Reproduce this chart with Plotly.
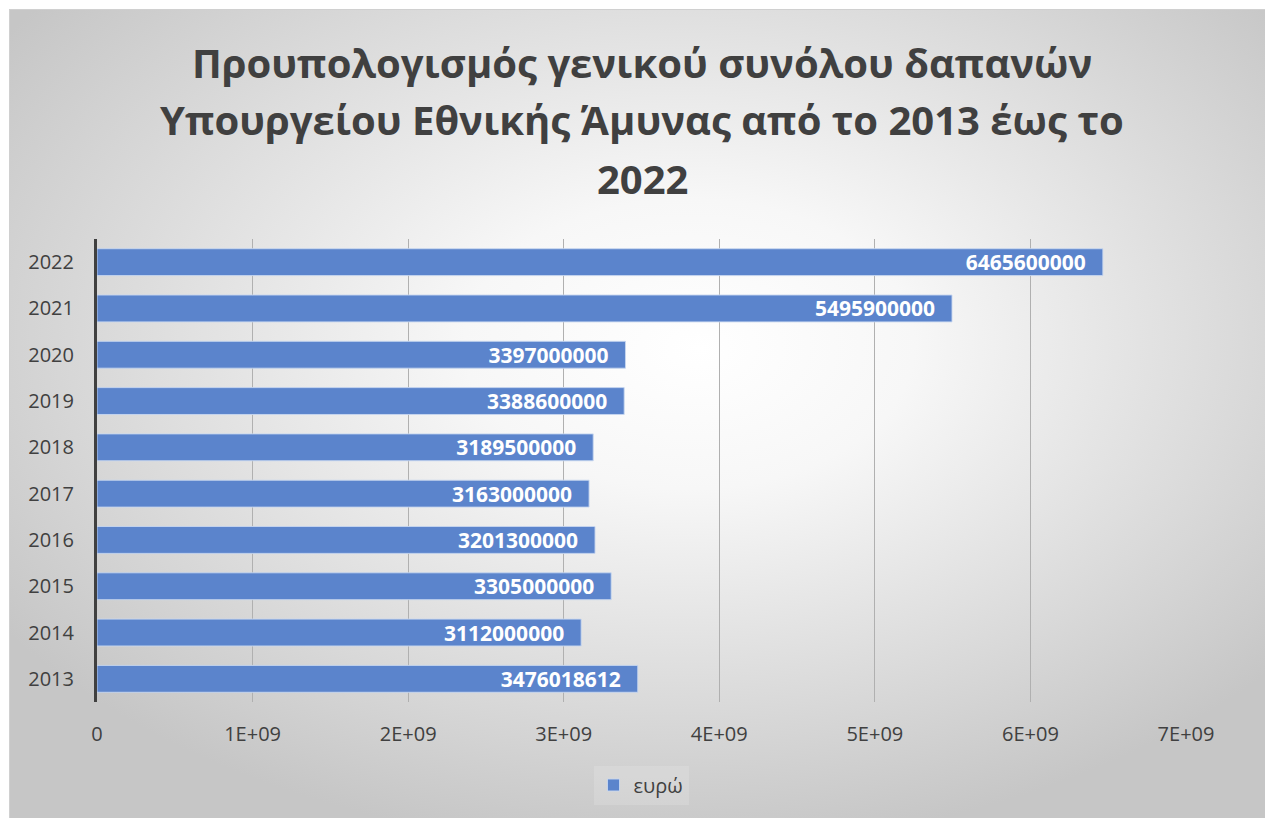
import plotly.graph_objects as go
import urllib.parse

years = ["2013", "2014", "2015", "2016", "2017", "2018", "2019", "2020", "2021", "2022"]
euros = [3476018612, 3112000000, 3305000000, 3201300000, 3163000000,
         3189500000, 3388600000, 3397000000, 5495900000, 6465600000]
x_tickvals = [0, 1e9, 2e9, 3e9, 4e9, 5e9, 6e9, 7e9]
x_ticktext = ["0", "1E+09", "2E+09", "3E+09", "4E+09", "5E+09", "6E+09", "7E+09"]
series_name = "ευρώ"
title_lines = ["Προυπολογισμός γενικού συνόλου δαπανών",
               "Υπουργείου Εθνικής Άμυνας από το 2013 έως το",
               "2022"]

W, H = 1265, 818
L, R, T, B = 97, 1186, 239, 702

svg = ('<svg xmlns="http://www.w3.org/2000/svg" width="1256" height="809" preserveAspectRatio="none">'
       '<defs><radialGradient id="g" cx="0.52" cy="0.40" r="0.64" fx="0.55" fy="0.42">'
       '<stop offset="0" stop-color="#ffffff"/><stop offset="0.28" stop-color="#f7f7f7"/>'
       '<stop offset="1" stop-color="#c6c6c6"/></radialGradient></defs>'
       '<rect x="0" y="0" width="1256" height="809" fill="url(#g)"/>'
       '<path d="M0.5 809 L0.5 0.5 L1256 0.5" fill="none" stroke="#d0d0d0" stroke-width="1"/></svg>')
src = "data:image/svg+xml;charset=utf-8," + urllib.parse.quote(svg)

pw, ph = R - L, B - T
def px2x(p):
    return (p - L) / pw
def py2y(p):
    return (B - p) / ph

fig = go.Figure()
fig.add_trace(go.Bar(
    y=years, x=euros, orientation="h", name=series_name,
    marker=dict(color="rgb(91,132,204)", line=dict(color="rgba(200,215,240,0.9)", width=1)),
    text=[str(v) for v in euros], texttemplate="%{text}\u2002\u2009",
    textposition="inside", insidetextanchor="end",
    textfont=dict(color="white", size=21, family="Open Sans", weight="bold"),
    constraintext="none", cliponaxis=False,
    width=0.58, showlegend=True, hoverinfo="skip",
))

annotations = []
for i, line in enumerate(title_lines):
    annotations.append(dict(
        text=line, xref="paper", yref="paper", x=px2x(642), y=py2y(62 + 58 * i),
        xanchor="center", yanchor="middle", showarrow=False,
        font=dict(size=40, family="Open Sans", color="#404040", weight="bold"),
    ))

fig.update_layout(
    width=W, height=H,
    margin=dict(l=L, r=W - R, t=T, b=H - B, pad=0),
    paper_bgcolor="white", plot_bgcolor="rgba(0,0,0,0)",
    font=dict(family="Open Sans", color="#404040"),
    annotations=annotations,
    xaxis=dict(range=[0, 7e9], tickvals=x_tickvals, ticktext=x_ticktext,
               showgrid=True, gridcolor="#b0b0b0", gridwidth=1, zeroline=False,
               showline=False, ticks="", ticklabelstandoff=18,
               tickfont=dict(size=20, color="#404040")),
    yaxis=dict(showgrid=False, showline=True, linecolor="#404040", linewidth=3,
               ticks="", ticklabelstandoff=16, tickfont=dict(size=20, color="#404040"),
               range=[-0.5, 9.5]),
    legend=dict(orientation="h", x=px2x(641), xanchor="center", y=py2y(785), yanchor="middle",
                font=dict(size=20, color="#404040"), bgcolor="rgba(255,255,255,0.15)",
                itemwidth=30),
    uniformtext=dict(mode="show", minsize=21),
    images=[dict(source=src, xref="paper", yref="paper", x=px2x(9), y=py2y(9),
                 sizex=(W - 9) / pw, sizey=(H - 9) / ph, sizing="stretch",
                 xanchor="left", yanchor="top", layer="below")],
)

fig.write_html("out.html", config={"displayModeBar": False},
               post_script="document.body.style.margin='0px';document.body.style.overflow='hidden';")
